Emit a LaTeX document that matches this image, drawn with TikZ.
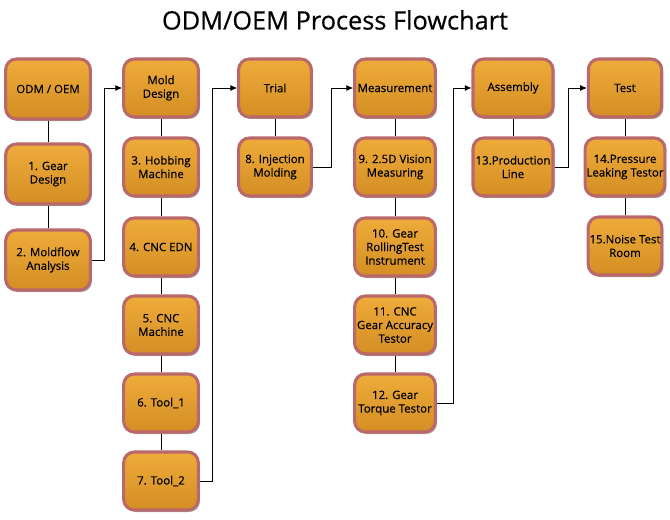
\documentclass[tikz,border=0pt]{standalone}
\usepackage{fontspec}
\setmainfont{Open Sans}
\newfontfamily\semib{Open Sans}[FakeBold=0.5]
\usetikzlibrary{arrows.meta,shadows}
\definecolor{boxtop}{RGB}{238,172,58}
\definecolor{boxbot}{RGB}{212,142,36}
\definecolor{boxrim}{RGB}{186,104,106}
\tikzset{
  pbox/.style={draw=boxrim, line width=2.3pt, rounded corners=8pt,
    top color=boxtop, bottom color=boxbot,
    drop shadow={shadow xshift=1.2pt, shadow yshift=-1.5pt, opacity=0.35, fill=black},
    minimum height=43.5pt, inner sep=1pt, align=center,
    font=\semib\fontsize{8.6}{10.2}\selectfont},
  w1/.style={pbox, minimum width=63.5pt, minimum height=45pt},
  w2/.style={pbox, minimum width=56pt},
  w3/.style={pbox, minimum width=54.5pt},
  w4/.style={pbox, minimum width=60.5pt},
  w5/.style={pbox, minimum width=60pt},
  w6/.style={pbox, minimum width=55pt},
  link/.style={draw=black, line width=0.6pt},
  arr/.style={link, -{Latex[length=5pt,width=4.5pt]}}
}
\begin{document}
\begin{tikzpicture}[x=0.75pt,y=-0.75pt]
\useasboundingbox (0,0) rectangle (670,520);
\node[font=\semib\fontsize{19}{23}\selectfont] (title) at (335,20) {ODM/OEM Process Flowchart};
% column 1
\node[w1] (a0) at (48,89) {ODM / OEM};
\node[w1] (a1) at (48,174) {1. Gear\\Design};
\node[w1] (a2) at (48,260) {2. Moldflow\\Analysis};
% column 2
\node[w2] (b0) at (161,88) {Mold\\Design};
\node[w2] (b3) at (161,167) {3. Hobbing\\Machine};
\node[w2] (b4) at (161,247) {4. CNC EDN};
\node[w2] (b5) at (161,325) {5. CNC\\Machine};
\node[w2] (b6) at (161,403) {6. Tool\_1};
\node[w2] (b7) at (161,481) {7. Tool\_2};
% column 3
\node[w3] (c0) at (275,88) {Trial};
\node[w3] (c8) at (275,167) {8. Injection\\Molding};
% column 4
\node[w4] (d0) at (395,88) {Measurement};
\node[w4] (d9) at (395,167) {9. 2.5D Vision\\Measuring};
\node[w4] (d10) at (395,247) {10. Gear\\RollingTest\\Instrument};
\node[w4] (d11) at (395,325) {11. CNC\\Gear Accuracy\\Testor};
\node[w4] (d12) at (395,403) {12. Gear\\Torque Testor};
% column 5
\node[w5] (e0) at (513,88) {Assembly};
\node[w5] (e13) at (513,167) {13.Production\\Line};
% column 6
\node[w6] (f0) at (625,88) {Test};
\node[w6] (f14) at (625,167) {14.Pressure\\Leaking Testor};
\node[w6] (f15) at (625,246) {15.Noise Test\\Room};
% vertical links
\draw[link] (a0) -- (a1); \draw[link] (a1) -- (a2);
\draw[link] (b0) -- (b3); \draw[link] (b3) -- (b4); \draw[link] (b4) -- (b5);
\draw[link] (b5) -- (b6); \draw[link] (b6) -- (b7);
\draw[link] (c0) -- (c8);
\draw[link] (d0) -- (d9); \draw[link] (d9) -- (d10); \draw[link] (d10) -- (d11); \draw[link] (d11) -- (d12);
\draw[link] (e0) -- (e13);
\draw[link] (f0) -- (f14); \draw[link] (f14) -- (f15);
% elbow arrows
\draw[arr] (a2.east) -- ++(13,0) |- (b0.west);
\draw[arr] (b7.east) -- ++(13,0) |- (c0.west);
\draw[arr] (c8.east) -- ++(19,0) |- (d0.west);
\draw[arr] (d12.east) -- ++(17,0) |- (e0.west);
\draw[arr] (e13.east) -- ++(14,0) |- (f0.west);
\end{tikzpicture}
\end{document}
